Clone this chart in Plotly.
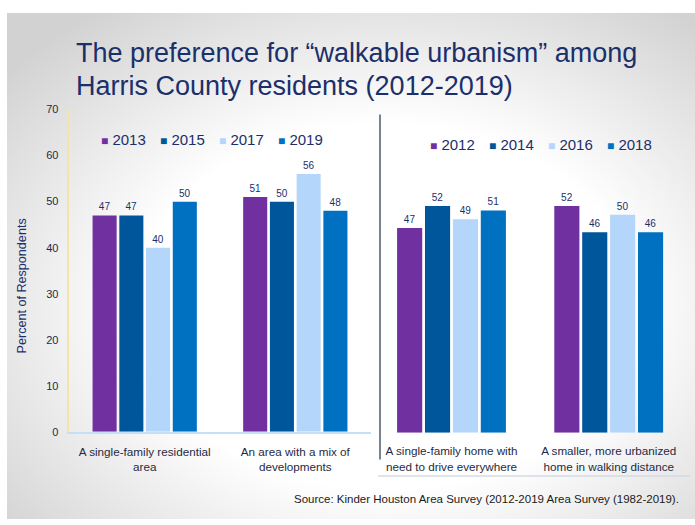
import base64
import plotly.graph_objects as go

# Survey answers, left panel (odd years) and right panel (even years)
left_categories = ["A single-family residential<br>area", "An area with a mix of<br>developments"]
left_years = ["2013", "2015", "2017", "2019"]
left_values = {
    "2013": [47, 51],
    "2015": [47, 50],
    "2017": [40, 56],
    "2019": [50, 48],
}

right_categories = ["A single-family home with<br>need to drive everywhere",
                    "A smaller, more urbanized<br>home in walking distance"]
right_years = ["2012", "2014", "2016", "2018"]
right_values = {
    "2012": [47, 52],
    "2014": [52, 46],
    "2016": [49, 50],
    "2018": [51, 46],
}

y_ticks = [0, 10, 20, 30, 40, 50, 60, 70]

colors = ["#7030A0", "#00569A", "#B4D6FA", "#0070C0"]
NAVY = "#1B2F6B"
FONT = "Liberation Sans, Arial, sans-serif"

W, H = 695, 525


def px(x):
    return x / W


def py(y):
    return 1 - y / H


fig = go.Figure()

for year, col in zip(left_years, colors):
    fig.add_trace(go.Bar(
        x=left_categories, y=left_values[year], name=year,
        marker=dict(color=col, line=dict(width=0)),
        text=[str(v) for v in left_values[year]], textposition="outside",
        textfont=dict(size=10, color=NAVY, family=FONT),
        cliponaxis=False, xaxis="x", yaxis="y", showlegend=False,
    ))

for year, col in zip(right_years, colors):
    fig.add_trace(go.Bar(
        x=right_categories, y=right_values[year], name=year,
        marker=dict(color=col, line=dict(width=0)),
        text=[str(v) for v in right_values[year]], textposition="outside",
        textfont=dict(size=10, color=NAVY, family=FONT),
        cliponaxis=False, xaxis="x2", yaxis="y2", showlegend=False,
    ))

# soft grey slide background
svg = (
    '<svg xmlns="http://www.w3.org/2000/svg" width="695" height="525" viewBox="0 0 695 525" '
    'preserveAspectRatio="none">'
    '<defs><radialGradient id="g" cx="55%" cy="58%" r="72%">'
    '<stop offset="0%" stop-color="#ffffff"/>'
    '<stop offset="50%" stop-color="#ffffff"/>'
    '<stop offset="100%" stop-color="#d2d2d2"/>'
    '</radialGradient></defs>'
    '<rect x="0" y="0" width="695" height="525" fill="url(#g)"/></svg>'
)
bg_src = "data:image/svg+xml;base64," + base64.b64encode(svg.encode()).decode()


def note(text, x, y, size, color=NAVY, xanchor="left", **kw):
    return dict(text=text, x=px(x), y=py(y), xref="paper", yref="paper",
                xanchor=xanchor, yanchor="middle", showarrow=False,
                font=dict(size=size, color=color, family=FONT), **kw)


annotations = [
    note("The preference for “walkable urbanism” among", 74, 48, 27),
    note("Harris County residents (2012-2019)", 74, 82, 27),
    note("Percent of Respondents", 22, 287, 12.6, xanchor="center", textangle=-90),
    note("Source: Kinder Houston Area Survey (2012-2019 Area Survey (1982-2019).",
         681, 505, 11.5, color="#1a1a1a", xanchor="right"),
]


def legend_row(years, x0, yc):
    for i, (year, col) in enumerate(zip(years, colors)):
        annotations.append(note(
            f"<span style='color:{col};font-size:12px'>■</span> {year}",
            x0 + i * 59, yc, 15))


legend_row(left_years, 99, 137)
legend_row(right_years, 428, 142)

fig.update_layout(
    width=W, height=H,
    margin=dict(l=0, r=0, t=0, b=0),
    paper_bgcolor="white", plot_bgcolor="rgba(0,0,0,0)",
    barmode="group", bargap=0.29, bargroupgap=0.1,
    images=[dict(source=bg_src, xref="paper", yref="paper", x=px(7), y=py(7),
                 sizex=1 - px(7), sizey=1 - 7 / H, sizing="stretch",
                 layer="below", xanchor="left", yanchor="top")],
    xaxis=dict(domain=[px(69.4), px(370.6)], showline=True, linecolor="#C5E0F5",
               linewidth=1.5, ticks="", ticklabelstandoff=8,
               tickfont=dict(size=11.7, color="#1F2A44", family=FONT),
               showgrid=False, zeroline=False, anchor="y"),
    yaxis=dict(domain=[py(435.7), py(106)], range=[0, 70], tickvals=y_ticks,
               showline=True, linecolor="#F2E6A6", linewidth=1.5, ticks="",
               ticklabelstandoff=7,
               tickfont=dict(size=11, color="#1F2A44", family=FONT),
               showgrid=False, zeroline=False, anchor="x"),
    xaxis2=dict(domain=[px(372.9), px(687.3)], showline=False, ticks="",
                ticklabelstandoff=10,
                tickfont=dict(size=11.7, color="#1F2A44", family=FONT),
                showgrid=False, zeroline=False, anchor="y2"),
    yaxis2=dict(domain=[py(436.7), py(102.2)], range=[0, 75], visible=False,
                showgrid=False, zeroline=False, anchor="x2"),
    shapes=[
        dict(type="line", xref="paper", yref="paper", x0=px(380), x1=px(380),
             y0=py(111), y1=py(464), line=dict(color="#4A5A6E", width=1.5)),
        dict(type="line", xref="paper", yref="paper", x0=px(378), x1=px(690),
             y0=py(481), y1=py(481), line=dict(color="#D3DBE3", width=1.5)),
    ],
    annotations=annotations,
    showlegend=False,
)

fig.write_html("out.html")
